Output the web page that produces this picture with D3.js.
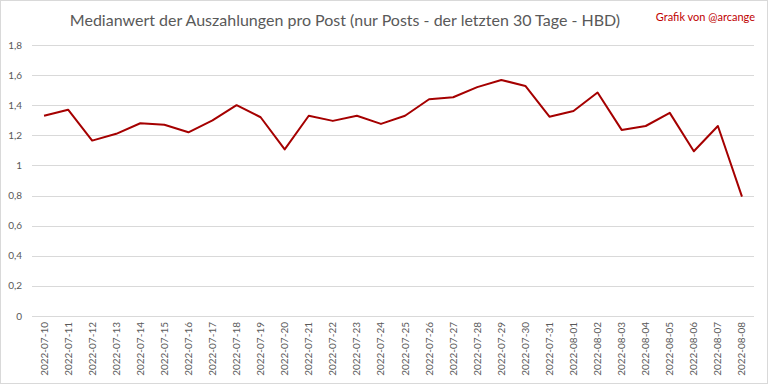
<!DOCTYPE html>
<html>
<head>
<meta charset="utf-8">
<script src="https://cdn.jsdelivr.net/npm/d3@7"></script>
<style>
  body { margin: 0; background: #fff; }
  svg { display: block; font-family: Lato, "Open Sans", sans-serif; }
</style>
</head>
<body>
<div id="chart"></div>
<script>
let width = 768, height = 384;

// Data
let dates = ["2022-07-10","2022-07-11","2022-07-12","2022-07-13","2022-07-14","2022-07-15",
    "2022-07-16","2022-07-17","2022-07-18","2022-07-19","2022-07-20","2022-07-21",
    "2022-07-22","2022-07-23","2022-07-24","2022-07-25","2022-07-26","2022-07-27",
    "2022-07-28","2022-07-29","2022-07-30","2022-07-31","2022-08-01","2022-08-02",
    "2022-08-03","2022-08-04","2022-08-05","2022-08-06","2022-08-07","2022-08-08"];
let medians = [1.33, 1.37, 1.165, 1.21, 1.28, 1.27, 1.22, 1.30, 1.40, 1.32, 1.107, 1.33,
    1.296, 1.33, 1.276, 1.33, 1.44, 1.453, 1.52, 1.568, 1.528, 1.324, 1.362, 1.484,
    1.236, 1.262, 1.349, 1.094, 1.262, 0.793];
let yTicks = [0, 0.2, 0.4, 0.6, 0.8, 1, 1.2, 1.4, 1.6, 1.8];

let margin = {top: 45, right: 14, bottom: 68, left: 32};

let svg = d3.select("#chart")
    .append("svg")
    .attr("width", width)
    .attr("height", height);

// outer border like the Excel chart area
svg.append("rect")
    .attr("x", 0.5).attr("y", 0.5)
    .attr("width", width - 1).attr("height", height - 1)
    .attr("fill", "#fff")
    .attr("stroke", "#d9d9d9");

let x = d3.scaleBand()
    .domain(dates)
    .range([margin.left, width - margin.right]);

let y = d3.scaleLinear()
    .domain([0, 1.8])
    .range([height - margin.bottom, margin.top]);

// gridlines
svg.append("g")
    .selectAll("line")
    .data(yTicks)
    .enter()
    .append("line")
    .attr("x1", margin.left)
    .attr("x2", width - margin.right)
    .attr("y1", d => Math.round(y(d)) + 0.5)
    .attr("y2", d => Math.round(y(d)) + 0.5)
    .attr("stroke", "#d9d9d9")
    .attr("stroke-width", 1);

// y tick labels
let fmt = d => d3.format(".1~f")(d).replace(".", ",");
svg.append("g")
    .selectAll("text")
    .data(yTicks)
    .enter()
    .append("text")
    .attr("x", 22)
    .attr("y", d => y(d))
    .attr("dy", "0.35em")
    .attr("text-anchor", "end")
    .attr("fill", "#595959")
    .attr("font-size", 10)
    .text(fmt);

// x tick labels, rotated
svg.append("g")
    .selectAll("text")
    .data(dates)
    .enter()
    .append("text")
    .attr("transform", d => `translate(${x(d) + x.bandwidth() / 2 + 3.5},${height - margin.bottom + 6}) rotate(-90)`)
    .attr("text-anchor", "end")
    .attr("fill", "#595959")
    .attr("font-size", 10)
    .text(d => d);

// the line
let line = d3.line()
    .x((d, i) => x(dates[i]) + x.bandwidth() / 2)
    .y(d => y(d));

svg.append("path")
    .datum(medians)
    .attr("d", line)
    .attr("fill", "none")
    .attr("stroke", "#a50000")
    .attr("stroke-width", 2)
    .attr("stroke-linejoin", "round");

// title
svg.append("text")
    .attr("x", 345)
    .attr("y", 26)
    .attr("text-anchor", "middle")
    .attr("fill", "#595959")
    .attr("font-size", 16)
    .text("Medianwert der Auszahlungen pro Post (nur Posts - der letzten  30 Tage - HBD)");

svg.append("text")
    .attr("x", 755)
    .attr("y", 21)
    .attr("text-anchor", "end")
    .attr("fill", "#c00000")
    .attr("font-size", 11)
    .text("Grafik von @arcange");
</script>
</body>
</html>
